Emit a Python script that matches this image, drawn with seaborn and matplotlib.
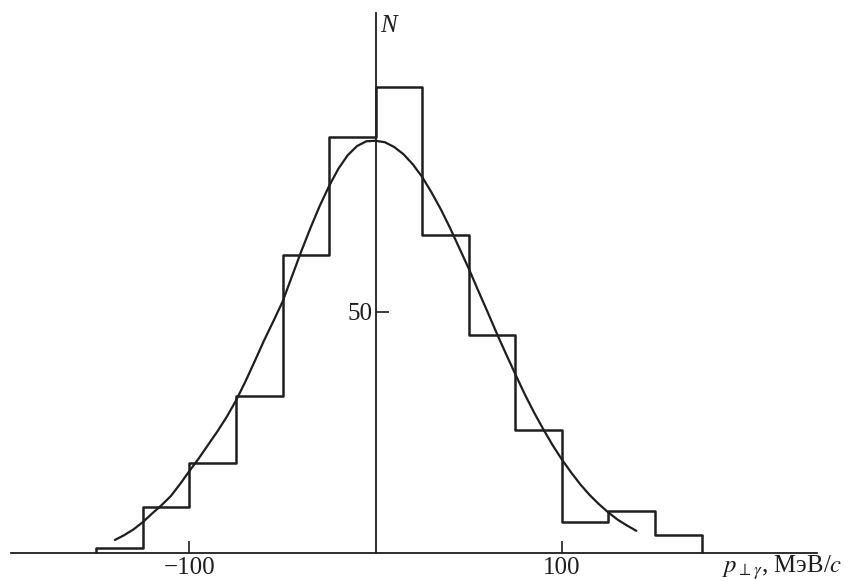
import numpy as np
import pandas as pd
import seaborn as sns
import matplotlib.pyplot as plt

# histogram bins (MeV/c) and counts
bin_edges = [-150, -125, -100, -75, -50, -25, 0, 25, 50, 75, 100, 125, 150, 175]
counts = [1.1, 9.5, 18.7, 32.5, 61.8, 86.3, 96.7, 66.0, 45.2, 25.5, 6.4, 8.7, 3.7]

# fitted curve, read point by point
curve_x = [-140, -135, -130, -125, -120, -115, -110, -105, -100, -95, -90, -85, -80,
           -75, -70, -65, -60, -55, -50, -45, -40, -35, -30, -25, -20, -15, -10, -5,
           0, 5, 10, 15, 20, 25, 30, 35, 40, 45, 50, 55, 60, 65, 70, 75, 80,
           85, 90, 95, 100, 105, 110, 115, 120, 125, 130, 135, 140]
curve_y = [2.7, 3.7, 4.9, 6.4, 8.2, 9.9, 11.8, 14.3, 17.0, 19.6, 22.4, 25.2, 28.2,
           31.6, 35.5, 39.7, 44.0, 48.0, 52.1, 57.3, 62.5, 67.4, 72.0, 76.1, 79.7, 82.5, 84.4, 85.4,
           85.5, 85.2, 84.2, 82.7, 80.6, 78.0, 74.8, 71.3, 67.4, 63.2, 59.0, 54.5, 50.1, 45.6, 41.3,
           37.1, 33.0, 29.2, 25.7, 22.4, 19.4, 16.7, 14.2, 12.0, 10.1, 8.4, 6.9, 5.7, 4.6]

x_ticks = [-100, 100]
x_ticklabels = ["\u2212100", "100"]
y_ticks = [50]

sns.set_style("white")
plt.rcParams["font.family"] = ["Liberation Serif", "DejaVu Serif"]
plt.rcParams["mathtext.fontset"] = "stix"

ink = "#1e1e1e"
centers = [(a + b) / 2 for a, b in zip(bin_edges[:-1], bin_edges[1:])]
df = pd.DataFrame({"p": centers, "N": counts})
df_curve = pd.DataFrame({"p": curve_x, "N": curve_y})

fig = plt.figure(figsize=(8.49, 5.81), dpi=100)
ax = fig.add_axes([0, 0, 1, 1])

sns.histplot(data=df, x="p", weights="N", bins=bin_edges, element="step",
             fill=False, color=ink, linewidth=1.8, ax=ax)
# close the outline down to the axis at both ends
ax.vlines([bin_edges[0], bin_edges[-1]], 0, [counts[0], counts[-1]], color=ink, linewidth=1.8)

sns.lineplot(data=df_curve, x="p", y="N", color=ink, linewidth=1.6, ax=ax)

ax.set_xlim(-201.7, 254.2)
ax.set_ylim(-5.81, 114.7)

for s in ["top", "right"]:
    ax.spines[s].set_visible(False)
ax.spines["left"].set_position(("data", 0))
ax.spines["bottom"].set_position(("data", 0))
ax.spines["left"].set_bounds(0, 112)
ax.spines["bottom"].set_bounds(-196, 237)
for s in ["left", "bottom"]:
    ax.spines[s].set_color(ink)
    ax.spines[s].set_linewidth(1.3)

ax.set_xticks(x_ticks)
ax.set_xticklabels(x_ticklabels)
ax.set_yticks(y_ticks)
ax.tick_params(axis="both", direction="in", length=9, width=1.2, colors=ink,
               labelsize=18, labelcolor=ink, left=True, bottom=True)
ax.tick_params(axis="x", pad=3)
ax.tick_params(axis="y", pad=2)
ax.set_xlabel("")
ax.set_ylabel("")

ax.text(2.4, 111.6, "N", fontsize=18, fontstyle="italic", color=ink, va="top", ha="left")
ax.text(186.0, -4.0, r"$p_{\perp\gamma}$, МэВ/$c$", fontsize=17.8, color=ink,
        va="baseline", ha="left")

fig.savefig("out.png", dpi=100, facecolor="white")
